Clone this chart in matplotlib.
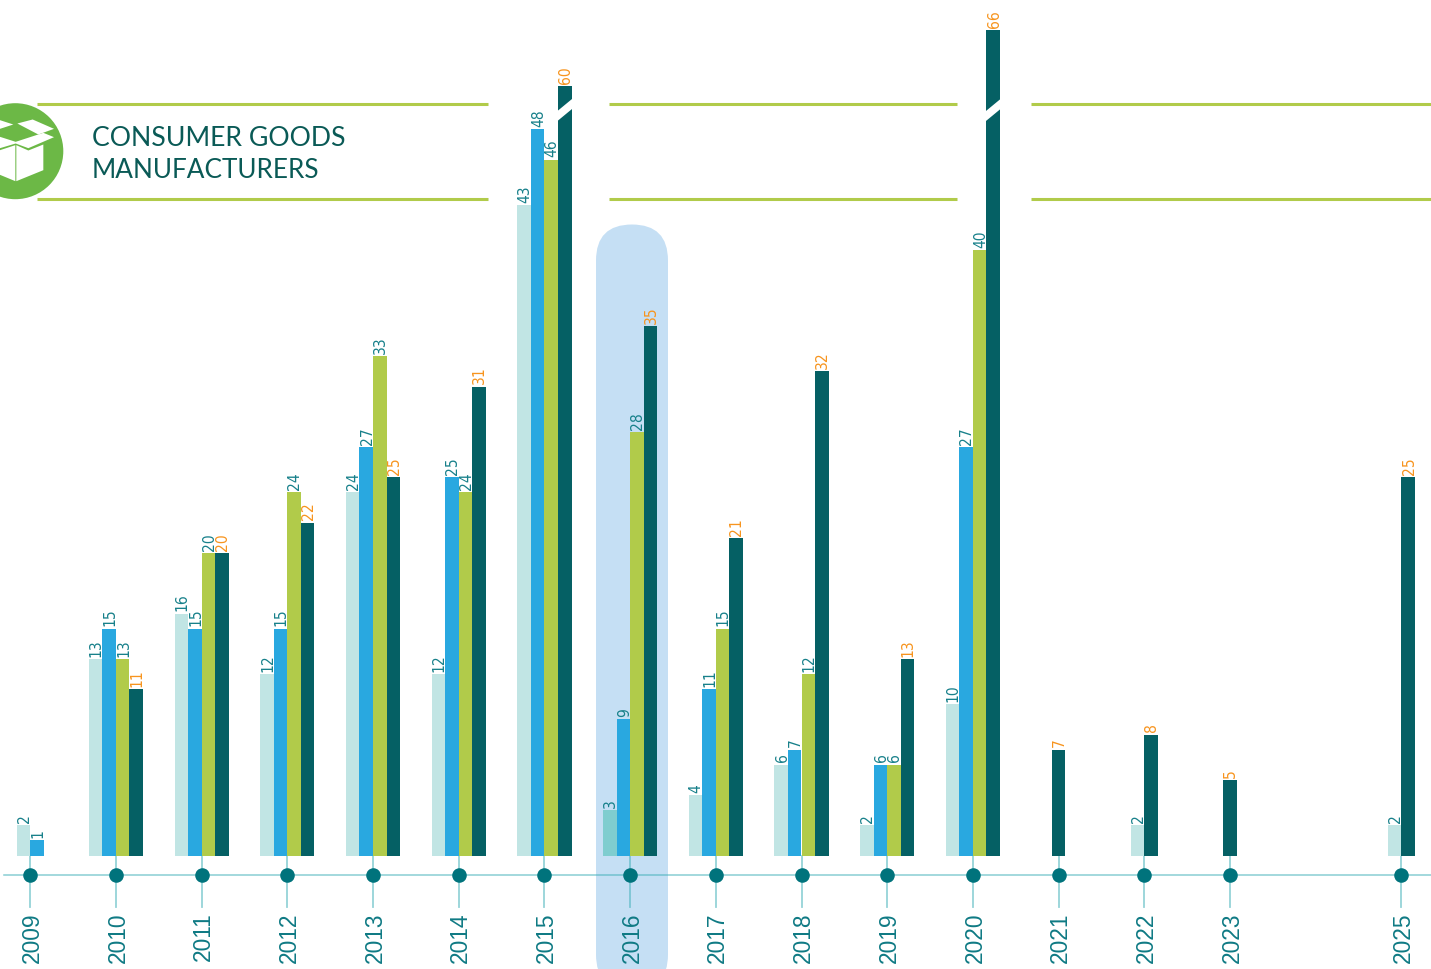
import numpy as np
import matplotlib
matplotlib.use("Agg")
import matplotlib.pyplot as plt
from matplotlib.patches import FancyBboxPatch, Polygon, Circle

W, H = 1431, 970
years = [2009, 2010, 2011, 2012, 2013, 2014, 2015, 2016, 2017, 2018, 2019, 2020, 2021, 2022, 2023, 2025]
s1 = [2, 13, 16, 12, 24, 12, 43, 3, 4, 6, 2, 10, None, 2, None, 2]
s2 = [1, 15, 15, 15, 27, 25, 48, 9, 11, 7, 6, 27, None, None, None, None]
s3 = [None, 13, 20, 24, 33, 24, 46, 28, 15, 12, 6, 40, None, None, None, None]
s4 = [None, 11, 20, 22, 25, 31, 60, 35, 21, 32, 13, 66, 7, 8, 5, 25]
series = [s1, s2, s3, s4]
colors = ["#c1e5e4", "#29a8e0", "#b1cb4a", "#056064"]
label_colors = ["#17808a", "#17808a", "#17808a", "#f7941e"]
highlight_year = 2016
highlight_color = "#7fcdcf"
broken_years = [2015, 2020]
title_lines = ["CONSUMER GOODS", "MANUFACTURERS"]

PX_YEAR = 85.7
PX_UNIT = 15.13
BASE = 856.6
X0 = 30.2
BAR = 13.55

# broken value axis: values above 48 are compressed
vals = [-100, 48, 60, 66, 200]
disp = [-100, 48, 50.85, 54.56, 188.56]
fwd = lambda v: np.interp(v, vals, disp)
inv = lambda d: np.interp(d, disp, vals)

fig = plt.figure(figsize=(W / 100, H / 100), dpi=100)
bg = fig.add_axes([0, 0, 1, 1], zorder=0)
bg.set_xlim(0, W)
bg.set_ylim(H, 0)
bg.axis("off")

ax = fig.add_axes([0, 0, 1, 1], zorder=1)
ax.patch.set_alpha(0)
ax.axis("off")
ax.set_yscale("function", functions=(fwd, inv))
ax.set_xlim(2009 - X0 / PX_YEAR, 2009 + (W - X0) / PX_YEAR)
ax.set_ylim(inv(-(H - BASE) / PX_UNIT), inv(BASE / PX_UNIT))

# highlight band
hx = X0 + (highlight_year - 2009) * PX_YEAR
bg.add_patch(FancyBboxPatch((hx - 34.1, 225.5), 72, 766, boxstyle="round,pad=0,rounding_size=36",
                            fc="#c5dff4", ec="none", mutation_aspect=1))

# header rules
for y in (105.2, 199.7):
    for a, b in ((37, 488), (609, 957), (1031, 1431)):
        bg.plot([a, b], [y, y], color="#b1cb4a", lw=2.2, solid_capstyle="butt")

# icon (outline read in 3x zoom coordinates)
bg.add_patch(Circle((15.3, 152.2), 48, fc="#6cb846", ec="none"))
icon_parts = [
    [(0, 62), (40, 75), (0, 88)],
    [(52, 72), (98, 60), (162, 88), (115, 105)],
    [(0, 112), (47, 127), (130, 100), (162, 113), (85, 146), (47, 132), (0, 146)],
    [(0, 152), (46, 137), (46, 245), (0, 226)],
    [(49, 137), (85, 153), (130, 135), (130, 212), (49, 245)],
]
for pts in icon_parts:
    bg.add_patch(Polygon([(px / 3, py / 3 + 100.5) for px, py in pts], closed=True, fc="white", ec="none"))

for line, y, fs in zip(title_lines, (139, 171), (19.2, 18.8)):
    bg.text(91.5, y, line, fontsize=fs, family="Lato", color="#0a5a56", va="center", ha="left")

# timeline
line_y = -(875.7 - BASE) / PX_UNIT
line_col = "#3fb0b8"
ax.plot([2009 - 26 / PX_YEAR, ax.get_xlim()[1]], [line_y, line_y], color=line_col, alpha=0.62, lw=1.1, zorder=2)
stem_bot = -(908 - BASE) / PX_UNIT
for yr in years:
    ax.plot([yr, yr], [0, stem_bot], color=line_col, alpha=0.55, lw=1.3, zorder=2)
ax.scatter(years, [line_y] * len(years), s=110, color="#00737c", zorder=4, linewidths=0)

# bars: the bars present in a year are centred on its tick
w = BAR / PX_YEAR
for k, yr in enumerate(years):
    present = [i for i in range(4) if series[i][k] is not None]
    for j, i in enumerate(present):
        v = series[i][k]
        x = yr + (j - (len(present) - 1) / 2) * w
        col = highlight_color if (yr == highlight_year and i == 0) else colors[i]
        ax.bar(x, v, width=w, color=col, align="center", zorder=3, linewidth=0)
        ax.annotate(str(v), (x, v), xytext=(0.6, 2.4), textcoords="offset points", rotation=90,
                    ha="center", va="bottom", fontsize=11.2, color=label_colors[i],
                    family="DejaVu Sans", stretch="condensed")
        if i == 3 and yr in broken_years:
            px = X0 + (x - 2009) * PX_YEAR
            l, r = px - w * PX_YEAR / 2 - 0.5, px + w * PX_YEAR / 2 + 0.5
            ax.add_patch(Polygon([(l, 112), (r, 100), (r, 110), (l, 122)], closed=True, fc="white",
                                 ec="none", transform=bg.transData, zorder=5))

# year labels
for yr in years:
    px = X0 + (yr - 2009) * PX_YEAR
    ax.text(px + 2, 912.5, str(yr), transform=bg.transData, rotation=90, ha="center", va="top",
            fontsize=16.4, color="#0f7a84", family="Liberation Sans", zorder=5)

fig.savefig("out.png", dpi=100)
